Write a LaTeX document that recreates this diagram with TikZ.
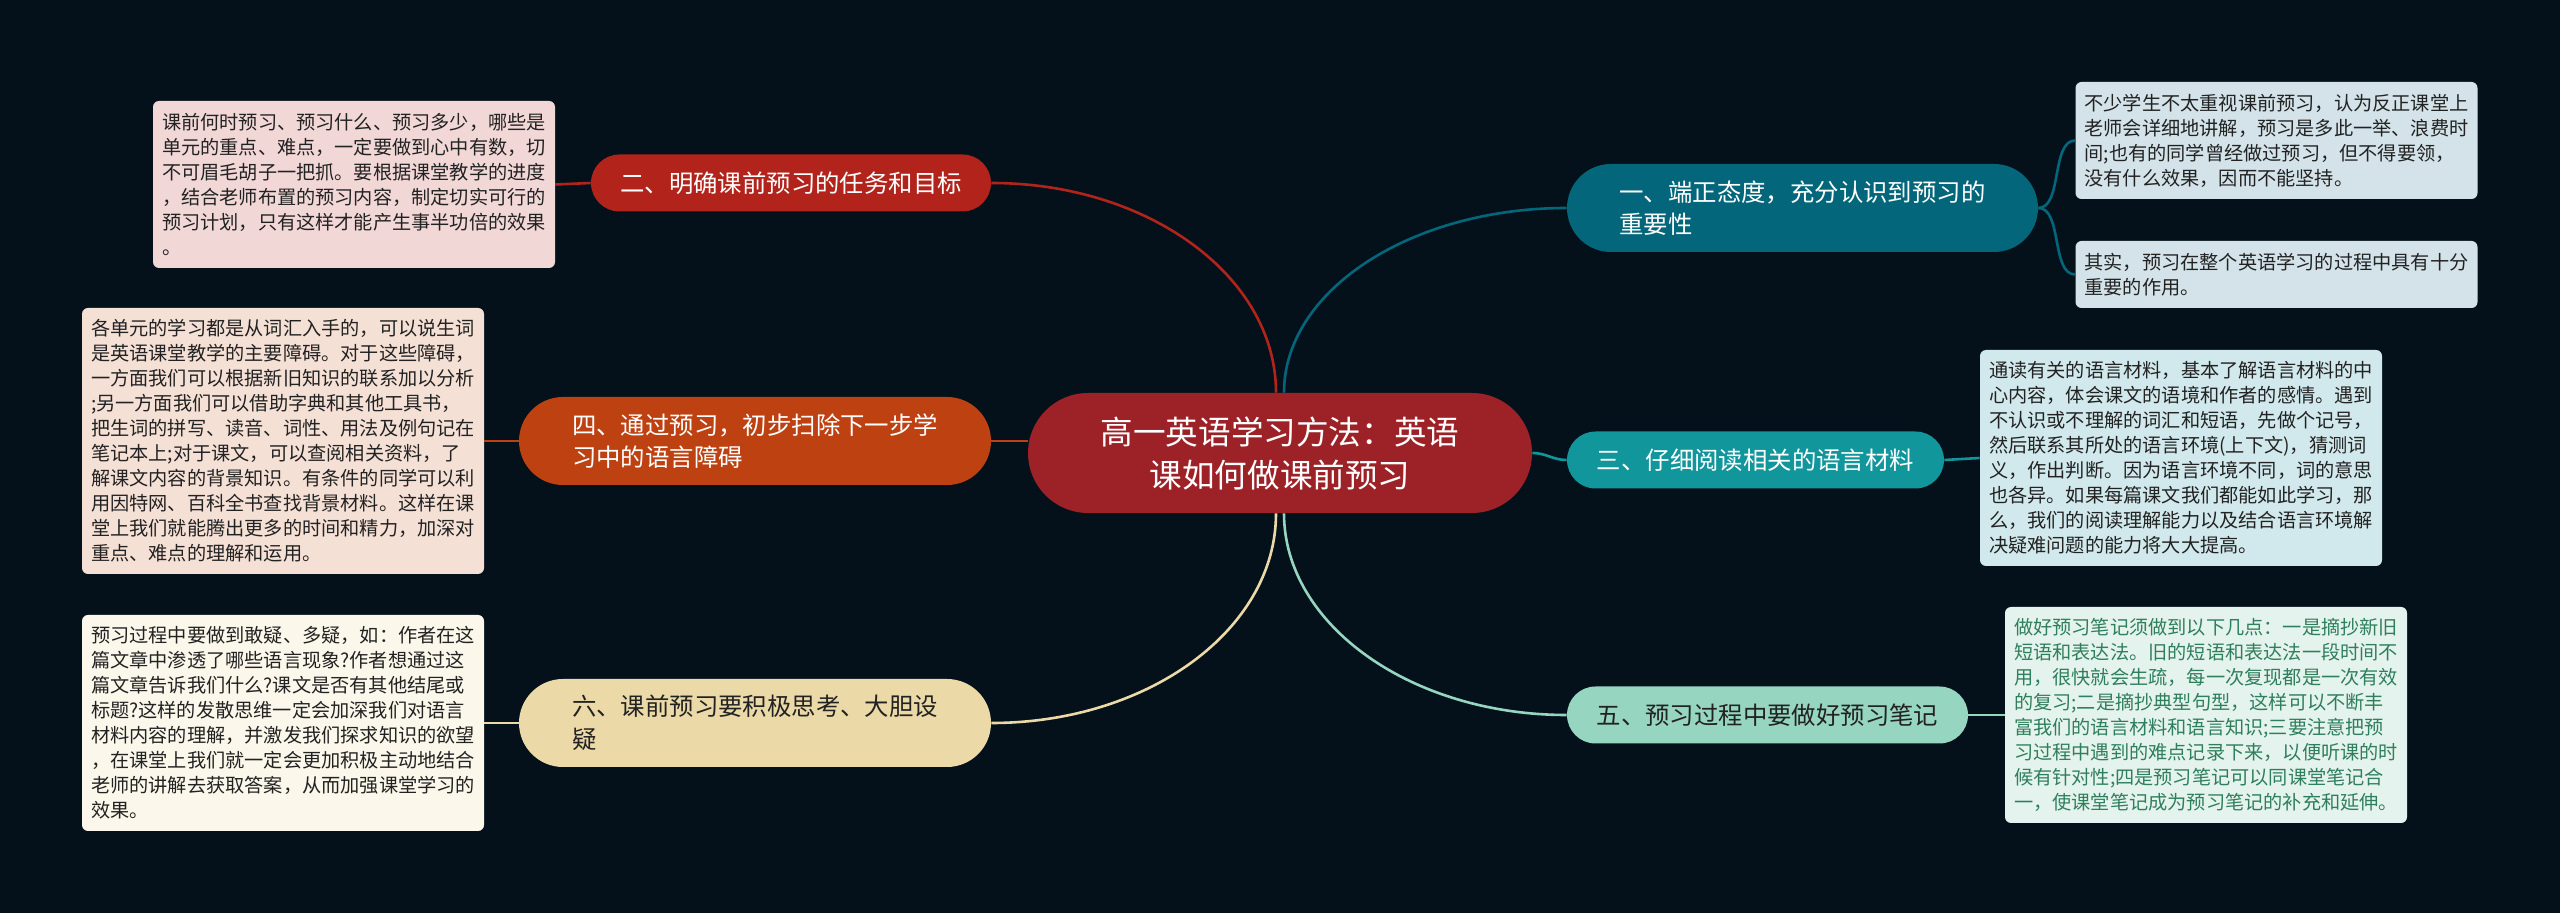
\documentclass[tikz,border=0pt]{standalone}
\usepackage{fontspec}
\setmainfont{Noto Sans CJK SC}
\usetikzlibrary{shapes.misc}
\definecolor{bgc}{HTML}{04111A}
\definecolor{rootc}{HTML}{9C2228}
\definecolor{ctwo}{HTML}{B2241B}
\definecolor{cfour}{HTML}{BE4112}
\definecolor{csix}{HTML}{EBD9A7}
\definecolor{cone}{HTML}{03667A}
\definecolor{cthree}{HTML}{11969B}
\definecolor{cfive}{HTML}{96D5C0}
\definecolor{ltwo}{HTML}{F2D7D7}
\definecolor{lfour}{HTML}{F5E0D6}
\definecolor{lsix}{HTML}{FCF7EB}
\definecolor{lone}{HTML}{D3E3E9}
\definecolor{lthree}{HTML}{D1E9EC}
\definecolor{lfive}{HTML}{E4F3EE}
\definecolor{tfive}{HTML}{2F7F5C}
\definecolor{dtext}{HTML}{222222}
\begin{document}
\begin{tikzpicture}[x=0.5pt,y=-0.5pt,
  root/.style={rounded rectangle,fill=rootc,text=white,inner sep=0pt,minimum width=252pt,
    minimum height=60pt,align=center,font=\fontsize{16.3pt}{21.5pt}\selectfont},
  topic/.style={rounded rectangle,inner sep=0pt,minimum height=28.5pt,text=white,
    align=left,font=\fontsize{12.2pt}{16.3pt}\selectfont},
  twoline/.style={minimum height=44pt},
  leaf/.style={rounded corners=3pt,inner sep=0pt,minimum width=201pt,align=left,text=dtext,
    font=\fontsize{9.6pt}{12.5pt}\selectfont},
  link/.style={line width=1.3pt}]
\fill[bgc](0,0)rectangle(2560,913);
\node[root](c)at(1280,453){高一英语学习方法：英语\\课如何做课前预习};
\node[topic,fill=ctwo,minimum width=200pt](b2)at(791,183){二、明确课前预习的任务和目标};
\node[topic,twoline,fill=cfour,minimum width=236pt](b4)at(755,441){四、通过预习，初步扫除下一步学\\习中的语言障碍};
\node[topic,twoline,fill=csix,text=dtext,minimum width=236pt](b6)at(755,723){六、课前预习要积极思考、大胆设\\疑};
\node[topic,twoline,fill=cone,minimum width=235.5pt](b1)at(1802.5,208){一、端正态度，充分认识到预习的\\重要性};
\node[topic,fill=cthree,minimum width=188.5pt](b3)at(1755.5,460){三、仔细阅读相关的语言材料};
\node[topic,fill=cfive,text=dtext,minimum width=200.5pt](b5)at(1767.5,715){五、预习过程中要做好预习笔记};
\node[leaf,fill=ltwo,minimum height=83.5pt](l2)at(354,184.5){课前何时预习、预习什么、预习多少，哪些是\\
单元的重点、难点，一定要做到心中有数，切\\不可眉毛胡子一把抓。要根据课堂教学的进度\\
，结合老师布置的预习内容，制定切实可行的\\预习计划，只有这样才能产生事半功倍的效果\\。};
\node[leaf,fill=lfour,minimum height=133pt](l4)at(283,441){各单元的学习都是从词汇入手的，可以说生词\\
是英语课堂教学的主要障碍。对于这些障碍，\\一方面我们可以根据新旧知识的联系加以分析\\
;另一方面我们可以借助字典和其他工具书，\\把生词的拼写、读音、词性、用法及例句记在\\
笔记本上;对于课文，可以查阅相关资料，了\\解课文内容的背景知识。有条件的同学可以利\\
用因特网、百科全书查找背景材料。这样在课\\堂上我们就能腾出更多的时间和精力，加深对\\
重点、难点的理解和运用。};
\node[leaf,fill=lsix,minimum height=108pt](l6)at(283,723){预习过程中要做到敢疑、多疑，如：作者在这\\
篇文章中渗透了哪些语言现象?作者想通过这\\篇文章告诉我们什么?课文是否有其他结尾或\\
标题?这样的发散思维一定会加深我们对语言\\材料内容的理解，并激发我们探求知识的欲望\\
，在课堂上我们就一定会更加积极主动地结合\\老师的讲解去获取答案，从而加强课堂学习的\\
效果。};
\node[leaf,fill=lone,minimum height=58.5pt](l1a)at(2276.5,140.5){不少学生不太重视课前预习，认为反正课堂上\\
老师会详细地讲解，预习是多此一举、浪费时\\间;也有的同学曾经做过预习，但不得要领，\\
没有什么效果，因而不能坚持。};
\node[leaf,fill=lone,minimum height=33.5pt](l1b)at(2276.5,274.5){其实，预习在整个英语学习的过程中具有十分\\
重要的作用。};
\node[leaf,fill=lthree,minimum height=108pt](l3)at(2181,458){通读有关的语言材料，基本了解语言材料的中\\
心内容，体会课文的语境和作者的感情。遇到\\不认识或不理解的词汇和短语，先做个记号，\\
然后联系其所处的语言环境(上下文)，猜测词\\义，作出判断。因为语言环境不同，词的意思\\
也各异。如果每篇课文我们都能如此学习，那\\么，我们的阅读理解能力以及结合语言环境解\\
决疑难问题的能力将大大提高。};
\node[leaf,fill=lfive,text=tfive,minimum height=108pt](l5)at(2206,715){做好预习笔记须做到以下几点：一是摘抄新旧\\
短语和表达法。旧的短语和表达法一段时间不\\用，很快就会生疏，每一次复现都是一次有效\\
的复习;二是摘抄典型句型，这样可以不断丰\\富我们的语言材料和语言知识;三要注意把预\\
习过程中遇到的难点记录下来，以便听课的时\\候有针对性;四是预习笔记可以同课堂笔记合\\
一，使课堂笔记成为预习笔记的补充和延伸。};
\draw[link,ctwo]([xshift=-2pt]c.north)..controls +(0,-116) and +(157,0)..(b2.east);
\draw[link,cone]([xshift=2pt]c.north)..controls +(0,-102) and +(-156,0)..(b1.west);
\draw[link,cfour](b4.east)--(b4.east -| c.west);
\draw[link,cthree](c.east)to[out=0,in=180](b3.west);
\draw[link,csix]([xshift=-2pt]c.south)..controls +(0,116) and +(157,0)..(b6.east);
\draw[link,cfive]([xshift=2pt]c.south)..controls +(0,111) and +(-156,0)..(b5.west);
\draw[link,ctwo](b2.west)--(l2.east);
\draw[link,cfour](b4.west)--(l4.east);
\draw[link,csix](b6.west)--(l6.east);
\draw[link,cone](b1.east)..controls +(24,0) and +(-24,0)..(l1a.west);
\draw[link,cone](b1.east)..controls +(24,0) and +(-24,0)..(l1b.west);
\draw[link,cthree](b3.east)--(l3.west);
\draw[link,cfive](b5.east)--(l5.west);
\end{tikzpicture}
\end{document}
